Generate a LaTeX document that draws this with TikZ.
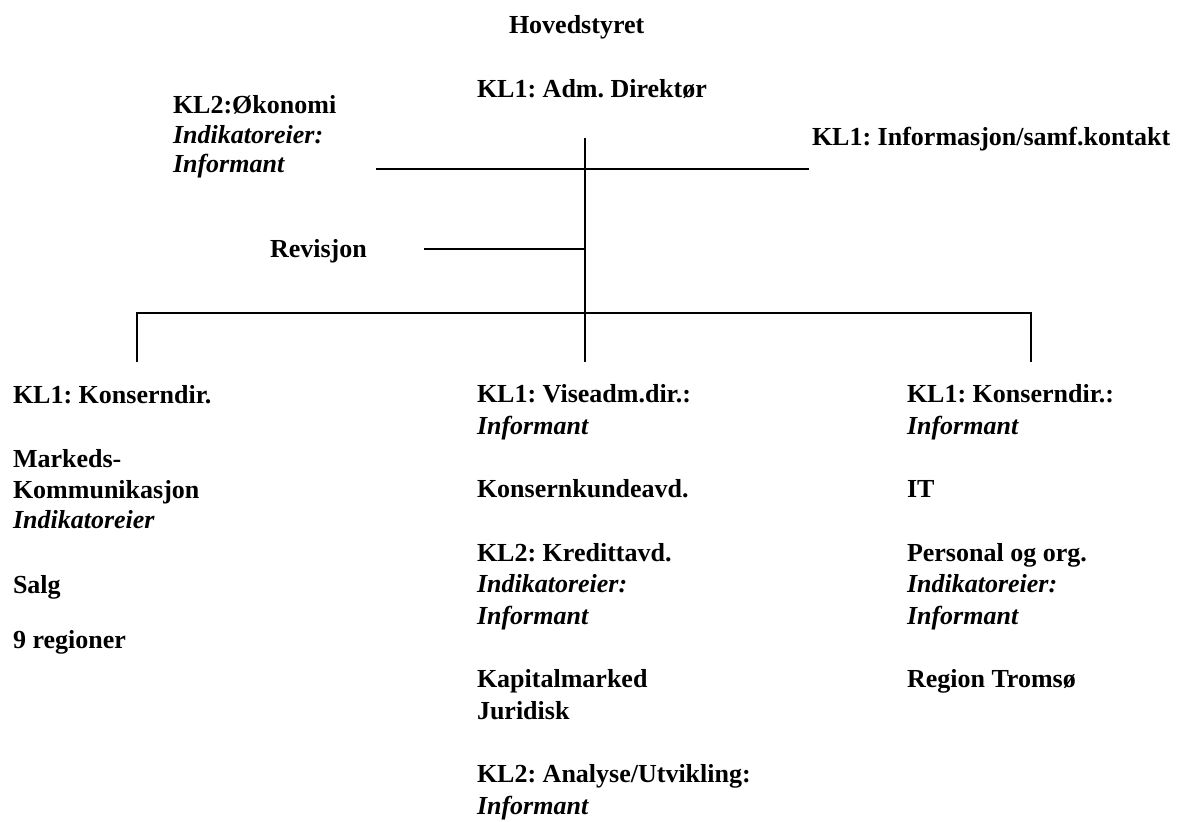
\documentclass[tikz,border=0pt]{standalone}
\usepackage{fontspec}
\setmainfont{Liberation Serif}
\frenchspacing
\begin{document}
\begin{tikzpicture}[x=0.5pt,y=-0.5pt,
  txt/.style={anchor=base west,inner sep=0pt,outer sep=0pt,
              font=\bfseries\fontsize{13}{15.8}\selectfont},
  itx/.style={txt,font=\bfseries\itshape\fontsize{13}{15.8}\selectfont},
  link/.style={line width=1.2pt,line cap=butt}]
\useasboundingbox (0,0) rectangle (1181,821);

% top of the chart
\node[txt] (hs)   at (509,33)  {Hovedstyret};
\node[txt] (adm)  at (477,97)  {KL1: Adm. Direktør};
\node[txt] (oko)  at (173,113) {KL2:Økonomi};
\node[itx] (okoI) at (173,143) {Indikatoreier:};
\node[itx] (okoF) at (173,172) {Informant};
\node[txt] (inf)  at (812,145) {KL1: Informasjon/samf.kontakt};
\node[txt] (rev)  at (270,257) {Revisjon};

% left column
\node[txt] (ka)  at (13,403) {KL1: Konserndir.};
\node[txt] (ka1) at (13,467) {Markeds-};
\node[txt] (ka2) at (13,498) {Kommunikasjon};
\node[itx] (ka3) at (13,528) {Indikatoreier};
\node[txt] (ka4) at (13,593) {Salg};
\node[txt] (ka5) at (13,648) {9 regioner};

% middle column
\node[txt] (vd)  at (477,402) {KL1: Viseadm.dir.:};
\node[itx] (vd1) at (477,434) {Informant};
\node[txt] (vd2) at (477,497) {Konsernkundeavd.};
\node[txt] (vd3) at (477,561) {KL2: Kredittavd.};
\node[itx] (vd4) at (477,592) {Indikatoreier:};
\node[itx] (vd5) at (477,624) {Informant};
\node[txt] (vd6) at (477,687) {Kapitalmarked};
\node[txt] (vd7) at (477,719) {Juridisk};
\node[txt] (vd8) at (477,782) {KL2: Analyse/Utvikling:};
\node[itx] (vd9) at (477,814) {Informant};

% right column
\node[txt] (kb)  at (907,402) {KL1: Konserndir.:};
\node[itx] (kb1) at (907,434) {Informant};
\node[txt] (kb2) at (907,497) {IT};
\node[txt] (kb3) at (907,561) {Personal og org.};
\node[itx] (kb4) at (907,592) {Indikatoreier:};
\node[itx] (kb5) at (907,624) {Informant};
\node[txt] (kb6) at (907,687) {Region Tromsø};

% junctions and line ends
\coordinate (spineT) at (585,138);
\coordinate (spineB) at (585,362);
\coordinate (staffL) at (376,169);
\coordinate (staffR) at (809,169);
\coordinate (revL)   at (424,249);
\coordinate (revJ)   at (585,249);
\coordinate (barL)   at (137,313);
\coordinate (barR)   at (1031,313);
\coordinate (dropL)  at (137,362);
\coordinate (dropR)  at (1031,362);

% connectors
\draw[link] (spineT) -- (spineB);
\draw[link] (staffL) -- (staffR);
\draw[link] (revL) -- (revJ);
\draw[link] (dropL) -- (barL) -- (barR) -- (dropR);
\end{tikzpicture}
\end{document}
